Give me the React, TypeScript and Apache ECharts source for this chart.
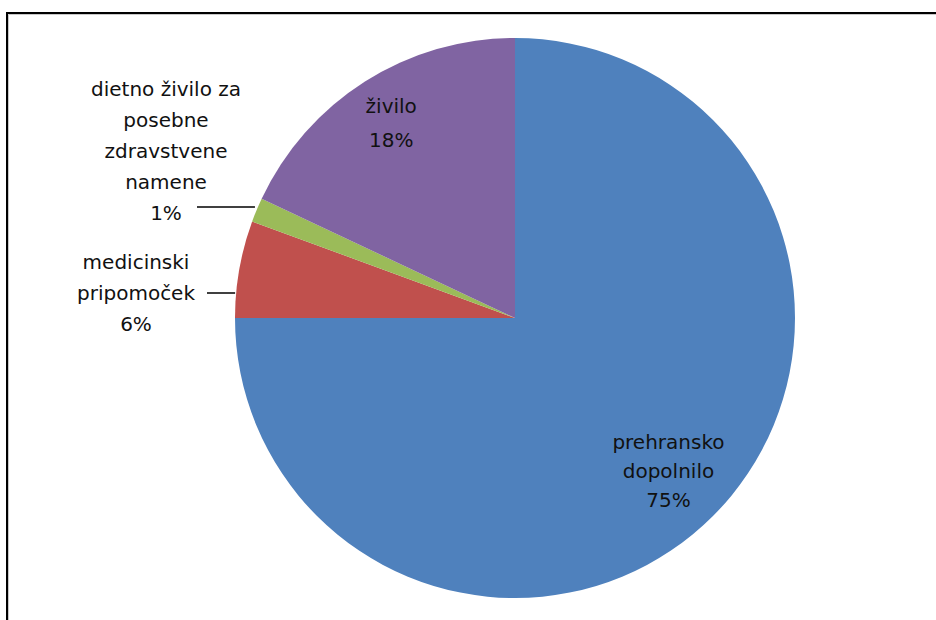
import React, { useEffect, useRef } from "react";
import * as echarts from "echarts";

const categories = [
  "prehransko dopolnilo",
  "medicinski pripomoček",
  "dietno živilo za posebne zdravstvene namene",
  "živilo",
];
const labelTexts = [
  "prehransko\ndopolnilo",
  "medicinski\npripomoček",
  "dietno živilo za\nposebne\nzdravstvene\nnamene",
  "živilo",
];
const values = [75.0, 5.6, 1.4, 18.0];
const colors = ["#4F81BD", "#C0504D", "#9BBB59", "#8064A2"];

const CX = 515;
const CY = 318;
const R = 280;
const FONT = "DejaVu Sans";
const FONT_SIZE = 20;
const LINE_H = 31;

const rimX = (y: number) => CX - Math.sqrt(R * R - (y - CY) * (y - CY));

export default function App() {
  const ref = useRef<HTMLDivElement>(null);
  useEffect(() => {
    if (!ref.current) return;
    const chart = echarts.init(ref.current, null, { renderer: "svg" });
    const fmt = (p: any) => `${labelTexts[p.dataIndex]}\n${Math.round(p.percent)}%`;
    const baseLabel = {
      formatter: fmt,
      fontFamily: FONT,
      fontSize: FONT_SIZE,
      lineHeight: LINE_H,
      color: "#111",
      textBorderWidth: 0,
      align: "center",
    };
    const overlay = (inner: number, showIdx: number, lh: number) => ({
      type: "pie",
      center: [CX, CY],
      radius: [inner, R],
      startAngle: 90,
      clockwise: true,
      silent: true,
      avoidLabelOverlap: false,
      itemStyle: { color: "transparent", borderWidth: 0 },
      emphasis: { disabled: true },
      labelLine: { show: false },
      label: { ...baseLabel, lineHeight: lh, show: true, position: "inside" },
      data: categories.map((name, i) => ({
        name,
        value: values[i],
        label: { show: i === showIdx },
      })),
    });
    chart.setOption({
      animation: false,
      backgroundColor: "#fff",
      graphic: [
        {
          type: "rect",
          shape: { x: 7, y: 13, width: 1000, height: 1000 },
          style: { fill: "none", stroke: "#000", lineWidth: 2 },
          silent: true,
        },
        {
          type: "rect",
          shape: { x: 8.5, y: 14.5, width: 1000, height: 1000 },
          style: { fill: "none", stroke: "#c8c8c8", lineWidth: 1 },
          silent: true,
        },
      ],
      series: [
        {
          type: "pie",
          center: [CX, CY],
          radius: R,
          startAngle: 90,
          clockwise: true,
          avoidLabelOverlap: false,
          emphasis: { disabled: true },
          itemStyle: { borderWidth: 0 },
          label: { ...baseLabel, show: true, position: "outside" },
          labelLine: {
            show: true,
            length: 10,
            length2: 20,
            lineStyle: { color: "#000", width: 1.5 },
          },
          labelLayout: (p: any) => {
            if (p.dataIndex === 1) {
              const y = 293;
              return {
                x: 136,
                y,
                align: "center",
                verticalAlign: "middle",
                labelLinePoints: [
                  [207, y],
                  [220, y],
                  [rimX(y) - 1, y],
                ],
              };
            }
            if (p.dataIndex === 2) {
              const y = 207;
              return {
                x: 166,
                y: 151,
                align: "center",
                verticalAlign: "middle",
                labelLinePoints: [
                  [197, y],
                  [225, y],
                  [rimX(y) - 3, y],
                ],
              };
            }
            return {};
          },
          data: categories.map((name, i) => ({
            name,
            value: values[i],
            itemStyle: { color: colors[i] },
            label: { show: i === 1 || i === 2 },
            labelLine: { show: i === 1 || i === 2 },
          })),
        },
        overlay(148, 0, 29),
        overlay(176, 3, 34),
      ],
    });
    return () => chart.dispose();
  }, []);
  return (
    <div
      ref={ref}
      style={{ position: "fixed", left: 0, top: 0, width: 936, height: 620, background: "#fff" }}
    />
  );
}
